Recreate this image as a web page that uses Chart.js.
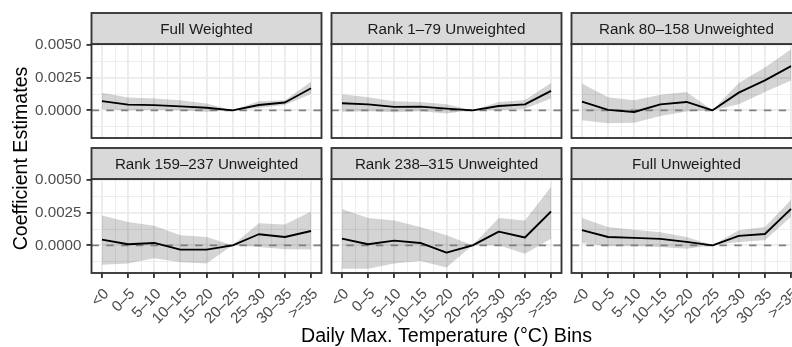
<!DOCTYPE html>
<html>
<head>
<meta charset="utf-8">
<script src="https://cdn.jsdelivr.net/npm/chart.js@4.4.1/dist/chart.umd.min.js"></script>
<style>
  html, body { margin: 0; padding: 0; background: #ffffff; overflow: hidden; width: 792px; height: 347px; }
  #wrap { position: relative; width: 812px; height: 347px; }
  #wrap canvas { position: absolute; left: 0; top: 0; }
</style>
</head>
<body>
<div id="wrap"></div>
<script>
// Temperature bins (x categories)
const bins = ['<0', '0–5', '5–10', '10–15', '15–20', '20–25', '25–30', '30–35', '>=35'];

// Facet titles
const panelTitles = [
  'Full Weighted', 'Rank 1–79 Unweighted', 'Rank 80–158 Unweighted',
  'Rank 159–237 Unweighted', 'Rank 238–315 Unweighted', 'Full Unweighted'
];

// Point estimates and confidence bounds, one set per facet
const fullWeightedEst  = [0.00070, 0.00044, 0.00040, 0.00030, 0.00020, 0, 0.00041, 0.00060, 0.00170];
const fullWeightedLow  = [0.00008, 0.00000, 0.00005, 0.00001, -0.00012, 0, 0.00018, 0.00040, 0.00125];
const fullWeightedHigh = [0.00136, 0.00098, 0.00090, 0.00078, 0.00052, 0, 0.00070, 0.00078, 0.00220];

const rank1Est  = [0.00054, 0.00046, 0.00026, 0.00028, 0.00013, 0, 0.00033, 0.00046, 0.00150];
const rank1Low  = [-0.00012, -0.00008, -0.00015, -0.00008, -0.00024, 0, 0.00000, 0.00012, 0.00090];
const rank1High = [0.00123, 0.00100, 0.00070, 0.00064, 0.00046, 0, 0.00064, 0.00080, 0.00210];

const rank80Est  = [0.00067, 0.00003, -0.00013, 0.00046, 0.00064, 0, 0.00136, 0.00230, 0.00340];
const rank80Low  = [-0.00077, -0.00100, -0.00095, -0.00044, -0.00010, 0, 0.00046, 0.00140, 0.00230];
const rank80High = [0.00206, 0.00100, 0.00077, 0.00120, 0.00140, 0, 0.00210, 0.00330, 0.00470];

const rank159Est  = [0.00044, 0.00008, 0.00018, -0.00033, -0.00033, 0, 0.00085, 0.00064, 0.00110];
const rank159Low  = [-0.00150, -0.00140, -0.00100, -0.00130, -0.00140, 0, -0.00013, -0.00030, -0.00033];
const rank159High = [0.00230, 0.00180, 0.00150, 0.00077, 0.00064, 0, 0.00170, 0.00160, 0.00260];

const rank238Est  = [0.00051, 0.00008, 0.00036, 0.00018, -0.00057, 0, 0.00105, 0.00060, 0.00260];
const rank238Low  = [-0.00180, -0.00180, -0.00140, -0.00120, -0.00170, 0, 0.00000, -0.00064, 0.00050];
const rank238High = [0.00280, 0.00210, 0.00190, 0.00140, 0.00077, 0, 0.00210, 0.00190, 0.00450];

const fullUnweightedEst  = [0.00116, 0.00064, 0.00057, 0.00049, 0.00026, 0, 0.00072, 0.00087, 0.00280];
const fullUnweightedLow  = [0.00018, -0.00008, -0.00008, -0.00013, -0.00026, 0, 0.00026, 0.00039, 0.00220];
const fullUnweightedHigh = [0.00210, 0.00140, 0.00120, 0.00100, 0.00064, 0, 0.00116, 0.00140, 0.00350];

// Axis breaks and limits
const yMajorBreaks = [0, 0.0025, 0.005];
const yMinorBreaks = [-0.00125, 0.00125, 0.00375];
const yLimits = [-0.00213, 0.0051];
const xLimits = [0.6, 9.4];

const panels = [
  [fullWeightedEst, fullWeightedLow, fullWeightedHigh],
  [rank1Est, rank1Low, rank1High],
  [rank80Est, rank80Low, rank80High],
  [rank159Est, rank159Low, rank159High],
  [rank238Est, rank238Low, rank238High],
  [fullUnweightedEst, fullUnweightedLow, fullUnweightedHigh]
];

// Page geometry
const CANVAS_W = 812, CANVAS_H = 347;
const colLefts = [91.5, 331.5, 571.5];
const panelW = 230;
const rowTops = [44, 179];
const panelH = 94;
const stripH = 31;
const Y_AXIS_W = 60, X_AXIS_H = 5;

const FONT = "'Liberation Sans', Arial, Helvetica, sans-serif";
const LW = 1.85;
const GREY20 = '#333333', GREY30 = '#4D4D4D', GREY92 = '#EBEBEB';

Chart.defaults.font.family = FONT;
Chart.defaults.animation = false;

const xMajor = bins.map((b, i) => i + 1);
const xMinor = xMajor.slice(0, -1).map(v => v + 0.5);
const isMajorX = v => Math.abs(v - Math.round(v)) < 1e-9;
const isMajorY = v => yMajorBreaks.some(b => Math.abs(b - v) < 1e-12);

const panelDecor = {
  id: 'panelDecor',
  beforeDatasetDraw(chart, args, opts) {
    // dashed reference line at zero, under the estimate line
    if (args.index !== 0) return;
    const { ctx, chartArea: a, scales } = chart;
    const y = scales.y.getPixelForValue(0);
    ctx.save();
    ctx.beginPath();
    ctx.rect(a.left, a.top, a.right - a.left, a.bottom - a.top);
    ctx.clip();
    ctx.strokeStyle = '#7F7F7F';
    ctx.lineWidth = LW;
    ctx.setLineDash([7.4, 7.4]);
    ctx.beginPath();
    ctx.moveTo(a.left, y);
    ctx.lineTo(a.right, y);
    ctx.stroke();
    ctx.restore();
  },
  afterDraw(chart, args, opts) {
    const { ctx, chartArea: a, scales } = chart;
    ctx.save();
    // panel border
    ctx.strokeStyle = GREY20;
    ctx.lineWidth = LW;
    ctx.strokeRect(a.left, a.top, a.right - a.left, a.bottom - a.top);
    // facet strip
    ctx.fillStyle = '#D9D9D9';
    ctx.fillRect(a.left, a.top - stripH, a.right - a.left, stripH);
    ctx.strokeRect(a.left, a.top - stripH, a.right - a.left, stripH);
    ctx.fillStyle = '#1A1A1A';
    ctx.font = '15.2px ' + FONT;
    ctx.textAlign = 'center';
    ctx.textBaseline = 'middle';
    ctx.fillText(opts.title, (a.left + a.right) / 2, a.top - stripH / 2 + 1);
    // rotated bin labels on the bottom row
    if (opts.bottomRow) {
      ctx.fillStyle = GREY30;
      ctx.textAlign = 'right';
      ctx.textBaseline = 'alphabetic';
      bins.forEach((b, i) => {
        const px = scales.x.getPixelForValue(i + 1);
        ctx.save();
        ctx.translate(px + 7.5, a.bottom + 21.5);
        ctx.rotate(-Math.PI / 4);
        ctx.fillText(b, 0, 0);
        ctx.restore();
      });
    }
    // axis titles, drawn once
    if (opts.titles) {
      ctx.fillStyle = '#000000';
      ctx.font = '19.6px ' + FONT;
      ctx.textAlign = 'center';
      ctx.textBaseline = 'alphabetic';
      ctx.fillText('Daily Max. Temperature (°C) Bins', (colLefts[0] + colLefts[2] + panelW) / 2, 342);
      ctx.save();
      ctx.translate(27, (rowTops[0] + rowTops[1] + panelH) / 2);
      ctx.rotate(-Math.PI / 2);
      ctx.fillText('Coefficient Estimates', 0, 0);
      ctx.restore();
    }
    ctx.restore();
  }
};

const wrap = document.getElementById('wrap');

panels.forEach((p, idx) => {
  const col = idx % 3, row = Math.floor(idx / 3);
  const [est, low, high] = p;
  const canvas = document.createElement('canvas');
  canvas.width = CANVAS_W;
  canvas.height = CANVAS_H;
  canvas.style.width = CANVAS_W + 'px';
  canvas.style.height = CANVAS_H + 'px';
  wrap.appendChild(canvas);

  const left = colLefts[col], top = rowTops[row];
  const yW = col === 0 ? Y_AXIS_W : 0;
  const xH = row === 1 ? X_AXIS_H : 0;
  const toPts = arr => arr.map((v, i) => ({ x: i + 1, y: v }));

  new Chart(canvas, {
    type: 'line',
    data: {
      datasets: [
        { data: toPts(est), borderColor: '#000000', borderWidth: LW, pointRadius: 0, tension: 0, fill: false, borderJoinStyle: 'round' },
        { data: toPts(low), borderColor: 'rgba(0,0,0,0)', borderWidth: 0, pointRadius: 0, tension: 0, fill: false },
        { data: toPts(high), borderColor: 'rgba(0,0,0,0)', borderWidth: 0, pointRadius: 0, tension: 0, fill: '-1', backgroundColor: 'rgba(0,0,0,0.17)' }
      ]
    },
    options: {
      responsive: false,
      devicePixelRatio: 1,
      animation: false,
      events: [],
      layout: {
        autoPadding: false,
        padding: {
          left: left - yW,
          right: CANVAS_W - (left + panelW),
          top: top,
          bottom: CANVAS_H - (top + panelH) - xH
        }
      },
      plugins: {
        legend: { display: false },
        tooltip: { enabled: false },
        panelDecor: { title: panelTitles[idx], bottomRow: row === 1, titles: idx === 0 }
      },
      scales: {
        x: {
          type: 'linear',
          min: xLimits[0],
          max: xLimits[1],
          afterBuildTicks: s => { s.ticks = xMajor.concat(xMinor).sort((a, b) => a - b).map(v => ({ value: v })); },
          afterFit: s => { s.height = xH; s.paddingLeft = s.paddingRight = s.paddingTop = s.paddingBottom = 0; },
          ticks: { display: false, autoSkip: false },
          border: { display: false },
          grid: {
            color: GREY92,
            lineWidth: c => (c.tick && isMajorX(c.tick.value)) ? LW : LW / 2,
            drawTicks: row === 1,
            tickLength: 5,
            tickWidth: LW,
            tickColor: c => (c.tick && isMajorX(c.tick.value)) ? GREY20 : 'rgba(0,0,0,0)'
          }
        },
        y: {
          type: 'linear',
          min: yLimits[0],
          max: yLimits[1],
          afterBuildTicks: s => { s.ticks = yMajorBreaks.concat(yMinorBreaks).sort((a, b) => a - b).map(v => ({ value: v })); },
          afterFit: s => { s.width = yW; s.paddingLeft = s.paddingRight = s.paddingTop = s.paddingBottom = 0; },
          ticks: {
            display: col === 0,
            autoSkip: false,
            padding: 5,
            color: GREY30,
            font: { size: 15.2, family: FONT },
            callback: v => isMajorY(v) ? v.toFixed(4) : ''
          },
          border: { display: false },
          grid: {
            color: GREY92,
            lineWidth: c => (c.tick && isMajorY(c.tick.value)) ? LW : LW / 2,
            drawTicks: col === 0,
            tickLength: 5,
            tickWidth: LW,
            tickColor: c => (c.tick && isMajorY(c.tick.value)) ? GREY20 : 'rgba(0,0,0,0)'
          }
        }
      }
    },
    plugins: [panelDecor]
  });
});
</script>
</body>
</html>
